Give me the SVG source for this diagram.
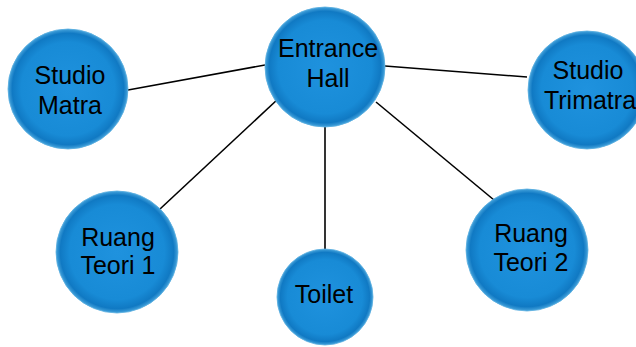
<svg xmlns="http://www.w3.org/2000/svg" width="636" height="347" viewBox="0 0 636 347">
<defs>
<radialGradient id="g" cx="50%" cy="50%" r="50%">
<stop offset="0" stop-color="#1f92de"/>
<stop offset="0.78" stop-color="#188bd6"/>
<stop offset="0.93" stop-color="#1079c3"/>
<stop offset="1" stop-color="#45a3dc"/>
</radialGradient>
</defs>
<style>
.n{fill:url(#g);stroke:#5aaee0;stroke-width:0.8}
.t{font-family:"Liberation Sans",Arial,sans-serif;font-size:25px;fill:#000;text-anchor:middle}
.c{stroke:#000;stroke-width:1.6;fill:none}
</style>
<rect width="636" height="347" fill="#fff"/>
<g id="connectors">
<line class="c" x1="265" y1="65" x2="128" y2="90"/>
<line class="c" x1="385" y1="66" x2="527" y2="77"/>
<line class="c" x1="278" y1="99" x2="160" y2="209"/>
<line class="c" x1="325" y1="126" x2="325" y2="249"/>
<line class="c" x1="376" y1="102" x2="494" y2="200"/>
</g>
<g id="entrance-hall">
<circle class="n" cx="325" cy="67" r="60"/>
<text class="t" x="328" y="57">Entrance</text>
<text class="t" x="328" y="87">Hall</text>
</g>
<g id="studio-matra">
<circle class="n" cx="68" cy="89" r="60"/>
<text class="t" x="70" y="84">Studio</text>
<text class="t" x="70" y="114">Matra</text>
</g>
<g id="studio-trimatra">
<circle class="n" cx="587" cy="90" r="59"/>
<text class="t" x="588" y="79">Studio</text>
<text class="t" x="590" y="109">Trimatra</text>
</g>
<g id="ruang-teori-1">
<circle class="n" cx="117" cy="252" r="61"/>
<text class="t" x="118" y="246">Ruang</text>
<text class="t" x="118" y="274">Teori 1</text>
</g>
<g id="ruang-teori-2">
<circle class="n" cx="527" cy="250" r="61"/>
<text class="t" x="531" y="242">Ruang</text>
<text class="t" x="531" y="271">Teori 2</text>
</g>
<g id="toilet">
<circle class="n" cx="325" cy="297" r="48"/>
<text class="t" x="324" y="303">Toilet</text>
</g>
</svg>
